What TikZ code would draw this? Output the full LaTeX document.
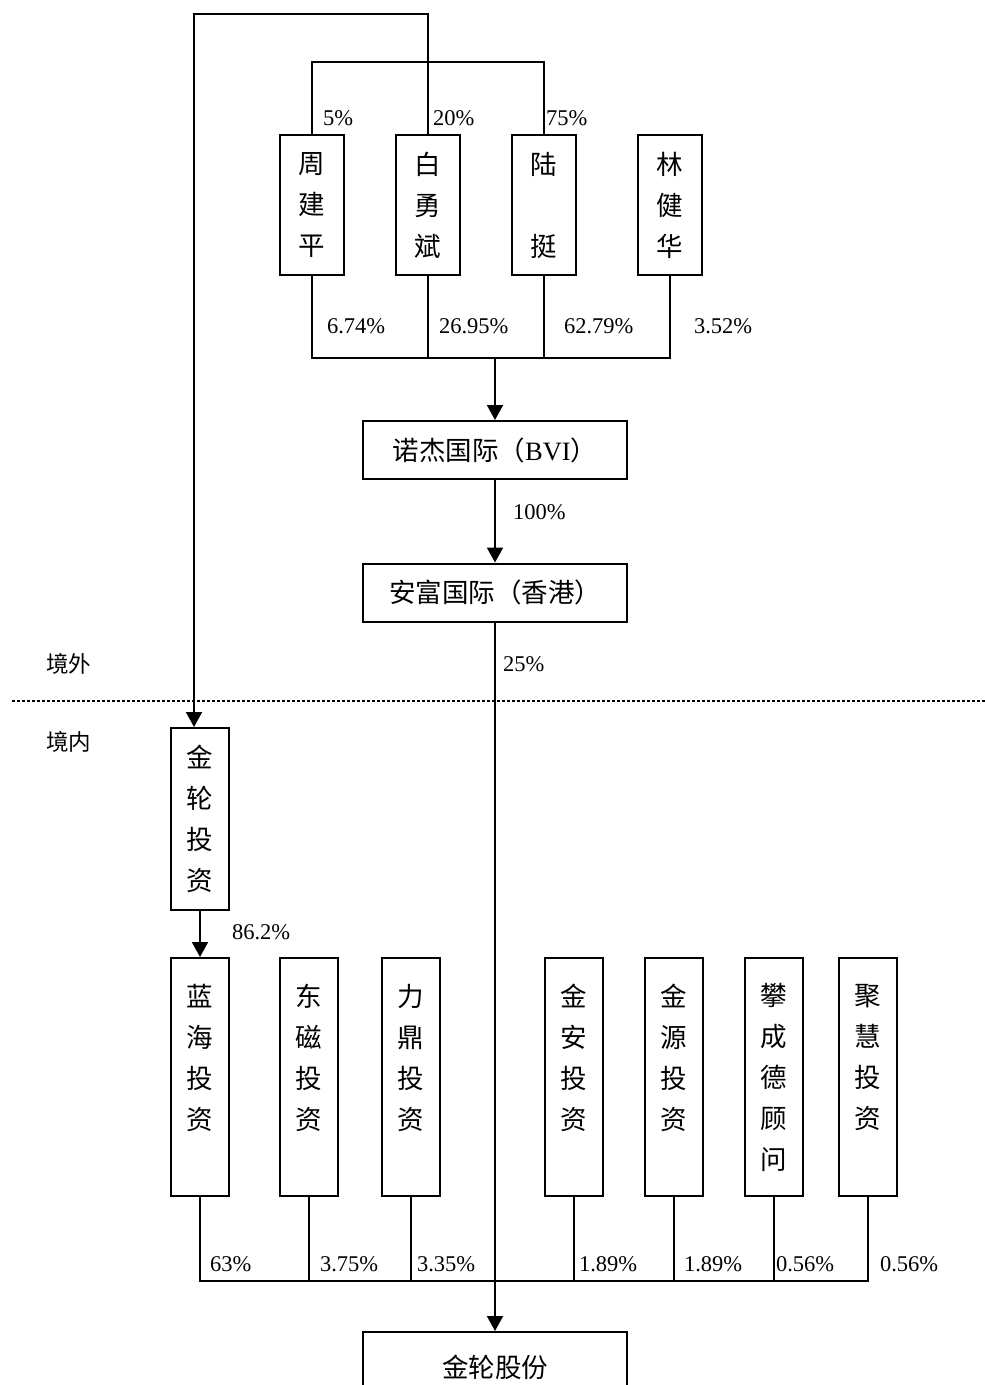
\documentclass[tikz,border=0pt]{standalone}
\usepackage{fontspec}
\setmainfont{Liberation Serif}
\newfontfamily\cjk{Noto Sans CJK SC}
\usetikzlibrary{arrows.meta}
\newcommand{\boxfont}{\cjk\fontsize{26.5}{41}\selectfont}
\newcommand{\pctfont}{\fontsize{22.5}{26}\selectfont}

\begin{document}
\begin{tikzpicture}[x=1pt, y=-1pt, line width=2pt,
    >={Triangle[length=15pt,width=16pt]},
    holder/.style={draw, align=center, inner sep=0pt, font=\boxfont},
    person/.style={holder, minimum width=64pt, minimum height=140pt},
    fund/.style={holder, minimum width=58pt, minimum height=238pt},
    firm/.style={holder, minimum width=264pt, minimum height=58pt},
    pct/.style={anchor=west, inner sep=0pt, font=\pctfont}]
  \useasboundingbox (0,0) rectangle (985,1385);
  % Persons
  \node[person] (zhou) at (312,205) {周\\建\\平};
  \node[person] (bai)  at (428,205) {白\\勇\\斌};
  \node[person] (lu)   at (544,205) {陆\\~\\挺};
  \node[person] (lin)  at (670,205) {林\\健\\华};
  % Offshore companies
  \node[firm] (nuojie) at (495,450) {诺杰国际（{\rmfamily BVI}）};
  \node[firm] (anfu)   at (495,592.5) {安富国际（香港）};
  % Onshore companies
  \node[holder, minimum width=58pt, minimum height=182pt] (jinlun) at (200,819) {金\\轮\\投\\资};
  \node[fund] (lanhai)   at (200,1077) {蓝\\海\\投\\资\\~};
  \node[fund] (dongci)   at (309,1077) {东\\磁\\投\\资\\~};
  \node[fund] (liding)   at (411,1077) {力\\鼎\\投\\资\\~};
  \node[fund] (jinan)    at (574,1077) {金\\安\\投\\资\\~};
  \node[fund] (jinyuan)  at (674,1077) {金\\源\\投\\资\\~};
  \node[fund] (pancheng) at (774,1077) {攀\\成\\德\\顾\\问};
  \node[fund] (juhui)    at (868,1077) {聚\\慧\\投\\资\\~};
  \node[firm, minimum height=70pt] (gufen) at (495,1367) {金轮股份};
  % Border line
  \draw[line width=2pt, dash pattern=on 2.5pt off 2.5pt] (12,701) -- (985,701);
  \node[pct] (abroad) at (45,664) {\cjk 境外};
  \node[pct] (inland) at (45,742) {\cjk 境内};
  % Upper links
  \draw[->] (bai.north) -- ++(0,-120) -| ([xshift=-6pt]jinlun.north);
  \draw (zhou.north) -- ++(0,-72) -| (lu.north);
  \draw (zhou.south) -- ++(0,82) -| (lin.south);
  \draw (bai.south) -- ++(0,82);
  \draw (lu.south) -- ++(0,82);
  \coordinate (topjoin) at (495,357);
  \draw[->] (topjoin) -- (nuojie);
  \draw[->] (nuojie) -- (anfu);
  \draw[->] (anfu) -- (gufen);
  \draw[->] (jinlun) -- (lanhai);
  % Lower links
  \draw (lanhai.south) -- ++(0,84) -| (juhui.south);
  \foreach \n in {dongci,liding,jinan,jinyuan,pancheng}
    \draw (\n.south) -- ++(0,84);
  % Shares
  \foreach \n/\x/\y/\txt in {p5/322/118/5, p20/432/118/20, p75/545/118/75,
      pz/326/326/6.74, pb/438/326/26.95, pl/563/326/62.79, plin/693/326/3.52,
      pnj/512/512/100, paf/502/664/25, pjl/231/932/86.2,
      plh/209/1264/63, pdc/319/1264/3.75, pld/416/1264/3.35, pja/578/1264/1.89,
      pjy/683/1264/1.89, ppc/775/1264/0.56, pjh/879/1264/0.56}
    \node[pct] (\n) at (\x,\y) {\txt\%};
\end{tikzpicture}
\end{document}
